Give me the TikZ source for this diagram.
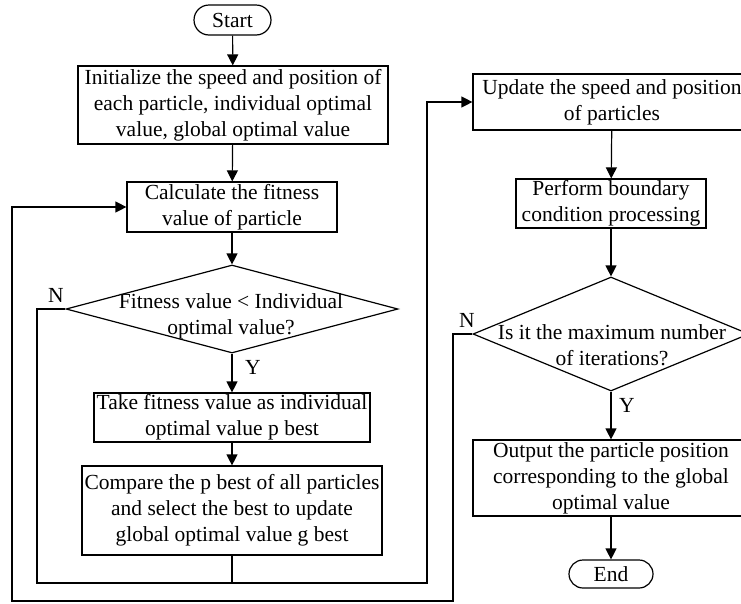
\documentclass[tikz,border=0pt]{standalone}
\usepackage{fontspec}
\setmainfont{Liberation Serif}
\usetikzlibrary{shapes.geometric,shapes.misc,arrows.meta}
\begin{document}
\begin{tikzpicture}[x=1pt,y=-1pt,
  line width=1.2pt,
  box/.style={draw, rectangle, inner sep=0pt, align=center, font=\fontsize{21.5}{26}\selectfont},
  term/.style={draw, rounded rectangle, inner sep=0pt, font=\fontsize{21.5}{26}\selectfont},
  dia/.style={draw, diamond, inner sep=0pt},
  txt/.style={inner sep=0pt, align=center, font=\fontsize{21.5}{26}\selectfont},
  arr/.style={-{Triangle[length=11pt,width=11pt]}}
]
\clip (0,0) rectangle (741,603);
% left column
\node[term, minimum width=77pt, minimum height=30pt] (start) at (232.5,20) {Start};
\node[box, minimum width=310pt, minimum height=78pt] (init) at (233,105)
  {Initialize the speed and position of\\each particle, individual optimal\\value, global optimal value};
\node[box, minimum width=210pt, minimum height=50pt] (calc) at (232,207)
  {Calculate the fitness\\value of particle};
\node[dia, minimum width=332pt, minimum height=88pt] (d1) at (232,309) {};
\node[txt] (d1t) at (231,316) {Fitness value < Individual\\optimal value?};
\node[box, minimum width=276pt, minimum height=49pt] (take) at (232,417.5)
  {Take fitness value as individual\\optimal value p best};
\node[box, minimum width=300pt, minimum height=89pt] (comp) at (232,510.5)
  {Compare the p best of all particles\\and select the best to update\\global optimal value g best};
% right column
\node[box, minimum width=278pt, minimum height=56pt] (upd) at (612,102)
  {Update the speed and position\\of particles};
\node[box, minimum width=190pt, minimum height=49pt] (perf) at (611,203.5)
  {Perform boundary\\condition processing};
\node[dia, minimum width=276pt, minimum height=114pt] (d2) at (611,334) {};
\node[txt] (d2t) at (612,345.5) {Is it the maximum number\\of iterations?};
\node[box, minimum width=276pt, minimum height=76pt] (out) at (611,478)
  {Output the particle position\\corresponding to the global\\optimal value};
\node[term, minimum width=84pt, minimum height=28pt] (end) at (611,574) {End};
% labels
\node[txt] (n1) at (56,295) {N};
\node[txt] (y1) at (253,367) {Y};
\node[txt] (n2) at (467,320) {N};
\node[txt] (y2) at (627,405) {Y};
% connectors
\draw[arr] (start) -- (init);
\draw[arr] (init) -- (calc);
\draw[arr] (calc) -- (d1.north);
\draw[arr] (d1.south) -- (take);
\draw[arr] (take) -- (comp);
\draw[arr] (upd) -- (perf);
\draw[arr] (perf) -- (d2.north);
\draw[arr] (d2.south) -- (out);
\draw[arr] (out) -- (end);
\coordinate (l1) at (37,583);
\coordinate (r1) at (427,583);
\draw[arr] (d1.west) -| (l1) -- (r1) |- (upd.west);
\draw (comp.south) -- (comp.south |- l1);
\coordinate (l2) at (12,601);
\coordinate (r2) at (453,601);
\draw[arr] (d2.west) -| (r2) -- (l2) |- (calc.west);
\end{tikzpicture}
\end{document}
